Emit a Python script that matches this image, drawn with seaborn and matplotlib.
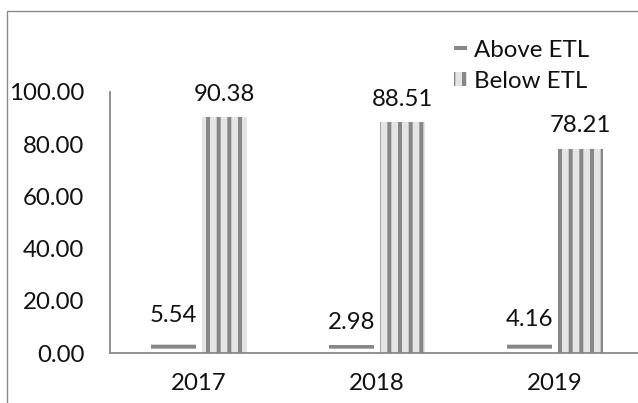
import numpy as np
import pandas as pd
import matplotlib
matplotlib.use("Agg")
import matplotlib.pyplot as plt
import seaborn as sns
from matplotlib.patches import Rectangle

# data
years = ["2017", "2018", "2019"]
above_etl = [5.54, 2.98, 4.16]
below_etl = [90.38, 88.51, 78.21]
series = ["Above ETL", "Below ETL"]

df = pd.DataFrame({
    "Year": years * 2,
    "Value": above_etl + below_etl,
    "Series": [series[0]] * 3 + [series[1]] * 3,
})

sns.set_style("white")
plt.rcParams["font.family"] = ["Lato", "DejaVu Sans"]
plt.rcParams["hatch.linewidth"] = 4.5

DPI = 64
W, H = 638, 403
fig = plt.figure(figsize=(W / DPI, H / DPI), dpi=DPI)
grey = "#878787"
txt = "#111111"
fs = 27

# axes placed in pixel terms, right end runs past the figure edge like the original
ax = fig.add_axes([110 / W, 50 / H, 534 / W, 261 / H])

sns.barplot(data=df, x="Year", y="Value", hue="Series", order=years,
            hue_order=series, palette=["white", "#e4e4e4"],
            width=0.57, gap=0.1, linewidth=0, ax=ax)

hatches = ["-", "|"]
for cont, h in zip(ax.containers, hatches):
    for p in cont:
        p.set_hatch(h)
        p.set_edgecolor(grey)
        p.set_linewidth(0)
    ax.bar_label(cont, fmt="%.2f", padding=14, fontsize=fs, color=txt)

ax.set_ylim(0, 100)
ax.set_xlim(-0.5, 2.5)
ax.set_yticks(np.arange(0, 101, 20))
ax.set_yticklabels([f"{v:.2f}" for v in np.arange(0, 101, 20)])
ax.set_xticks([0, 1, 2])
ax.set_xticks([-0.5, 0.5, 1.5], minor=True)
ax.tick_params(axis="x", which="major", length=0, pad=22, labelsize=fs,
               labelcolor=txt)
ax.tick_params(axis="x", which="minor", length=9, width=2, color=grey,
               direction="out")
ax.tick_params(axis="y", length=9, width=2, color=grey, direction="out",
               pad=20, labelsize=fs, labelcolor=txt)
ax.set_xlabel("")
ax.set_ylabel("")
for s in ["top", "right"]:
    ax.spines[s].set_visible(False)
for s in ["left", "bottom"]:
    ax.spines[s].set_color(grey)
    ax.spines[s].set_linewidth(2)

leg = ax.legend(loc="upper left", bbox_to_anchor=(454 / W, 1 - 40 / H),
                bbox_transform=fig.transFigure, frameon=False, fontsize=fs,
                handlelength=0.55, handleheight=0.5, handletextpad=0.3,
                labelspacing=0.4, borderaxespad=0, borderpad=0)
for t in leg.get_texts():
    t.set_color(txt)
for hdl, h, fc in zip(leg.legend_handles, hatches, ["white", "#e4e4e4"]):
    hdl.set_hatch(h)
    hdl.set_facecolor(fc)
    hdl.set_edgecolor(grey)
    hdl.set_linewidth(0)

# outer chart border (cropped on right and bottom)
fig.patches.append(Rectangle((7 / W, -0.2), 1.5, 1.2 - 11 / H,
                             transform=fig.transFigure, fill=False,
                             edgecolor=grey, linewidth=1.5))

fig.savefig("out.png", dpi=DPI)
